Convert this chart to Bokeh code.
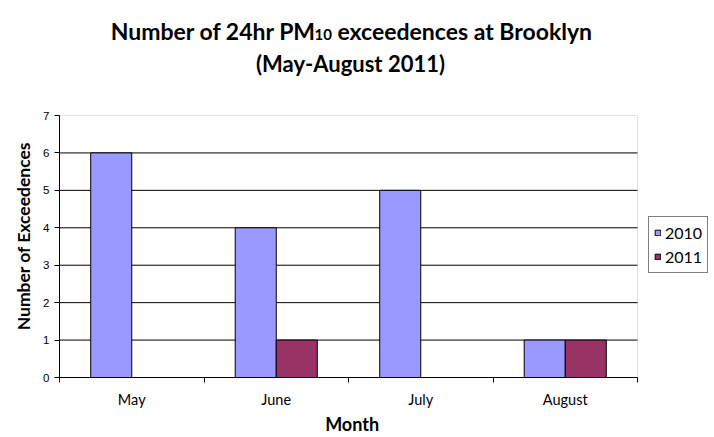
from bokeh.plotting import figure
from bokeh.models import (Range1d, FixedTicker, LinearAxis, Legend, LegendItem,
                          Label, ColumnDataSource, BoxAnnotation)
from bokeh.transform import dodge
from bokeh.embed import file_html
from bokeh.resources import INLINE

# ---- data ----
months = ["May", "June", "July", "August"]
series_names = ["2010", "2011"]
exc_2010 = [6, 4, 5, 1]
exc_2011 = [0, 1, 0, 1]
y_ticks = [0, 1, 2, 3, 4, 5, 6, 7]
title_part1 = "Number of 24hr PM"
title_sub = "10"
title_part3 = "exceedences at Brooklyn"
title_line2 = "(May-August 2011)"
x_title = "Month"
y_title = "Number of Exceedences"

colors = ["#9999FF", "#993366"]
CAL = "Lato"
EM, THIN = "\u2003", "\u2009"   # non-collapsing spaces used to offset axis titles

W, H = 714, 437
# plot-area geometry (pixels); the Bokeh frame is extended to the top and right
# so that title and legend (drawn as annotations) are not clipped.
FL, FR, FT, FB = 59, 637, 115, 377
ncat = len(months)
ymax = max(y_ticks)
x_end = ncat * (W - FL) / (FR - FL)
y_end = ymax * FB / (FB - FT)

def dx(px):
    return (px - FL) / (FR - FL) * ncat
def dy(py):
    return (FB - py) / (FB - FT) * ymax

pos = [i + 0.5 for i in range(ncat)]
bounds = [float(i) for i in range(ncat + 1)]
src = ColumnDataSource(dict(pos=pos, y2010=exc_2010, y2011=exc_2011))
grid_src = ColumnDataSource(dict(y=y_ticks[1:-1],
                                 x0=[0] * (len(y_ticks) - 2),
                                 x1=[ncat] * (len(y_ticks) - 2)))

p = figure(width=W, height=H, output_backend="svg", toolbar_location=None,
           x_range=Range1d(0, x_end), y_range=Range1d(0, y_end),
           x_axis_type=None, y_axis_type=None,
           min_border_left=FL, min_border_right=0, min_border_top=0,
           min_border_bottom=H - FB)
p.title.visible = False
p.background_fill_color = "white"
p.border_fill_color = "white"
p.outline_line_color = None
p.xgrid.visible = False
p.ygrid.visible = False

# horizontal gridlines of the plot area
p.segment(x0="x0", x1="x1", y0="y", y1="y", source=grid_src,
          line_color="black", line_width=1)
# plot-area border (grey)
p.add_layout(BoxAnnotation(left=0, right=ncat, bottom=0, top=ymax,
                           fill_alpha=0, line_color="#a0a0a0", line_width=1,
                           level="underlay"))

bw = 0.284
r1 = p.vbar(x=dodge("pos", -bw / 2), top="y2010", width=bw, source=src,
            fill_color=colors[0], line_color="black", line_width=1)
r2 = p.vbar(x=dodge("pos", bw / 2), top="y2011", width=bw, source=src,
            fill_color=colors[1], line_color="black", line_width=1)

xaxis = LinearAxis(ticker=FixedTicker(ticks=pos, minor_ticks=bounds),
                   major_label_overrides={pp: m for pp, m in zip(pos, months)})
xaxis.bounds = (0, ncat)
xaxis.major_tick_line_color = None
xaxis.major_tick_out = 0
xaxis.major_tick_in = 0
xaxis.minor_tick_line_color = "black"
xaxis.minor_tick_out = 5
xaxis.minor_tick_in = 0
xaxis.axis_line_color = "black"
xaxis.major_label_text_font = CAL
xaxis.major_label_text_font_size = "14.5px"
xaxis.major_label_text_color = "black"
xaxis.major_label_standoff = 8
xaxis.axis_label = x_title + EM * 5 + THIN
xaxis.axis_label_text_font = CAL
xaxis.axis_label_text_font_style = "bold"
xaxis.axis_label_text_font_size = "18px"
xaxis.axis_label_text_color = "black"
xaxis.axis_label_standoff = 2
p.add_layout(xaxis, "below")

yaxis = LinearAxis(ticker=FixedTicker(ticks=y_ticks))
yaxis.bounds = (0, ymax)
yaxis.major_tick_out = 5
yaxis.major_tick_in = 0
yaxis.minor_tick_line_color = None
yaxis.axis_line_color = "black"
yaxis.major_label_text_font = "Liberation Sans"
yaxis.major_label_text_font_size = "11.5px"
yaxis.major_label_text_color = "black"
yaxis.major_label_standoff = 5
yaxis.axis_label = y_title + EM * 7 + THIN
yaxis.axis_label_text_font = CAL
yaxis.axis_label_text_font_style = "bold"
yaxis.axis_label_text_font_size = "17.5px"
yaxis.axis_label_text_color = "black"
yaxis.axis_label_standoff = 6
p.add_layout(yaxis, "left")

legend = Legend(items=[LegendItem(label=series_names[0], renderers=[r1]),
                       LegendItem(label=series_names[1], renderers=[r2])],
                location=(648 - FL, FB - 273), orientation="vertical")
legend.margin = 0
legend.padding = 5
legend.spacing = 3
legend.glyph_width = 7
legend.glyph_height = 7
legend.label_height = 21
legend.label_standoff = 4
legend.label_text_font = CAL
legend.label_text_font_size = "16px"
legend.label_text_color = "black"
legend.border_line_color = "black"
legend.border_line_width = 1
legend.background_fill_color = "white"
legend.background_fill_alpha = 1
p.add_layout(legend)

tfont = dict(text_font=CAL, text_font_style="bold", text_color="black")
p.add_layout(Label(x=dx(316), y=dy(30), text=title_part1, text_align="right",
                   text_baseline="alphabetic", text_font_size="23px", **tfont))
p.add_layout(Label(x=dx(314), y=dy(34), text=title_sub, text_align="left",
                   text_baseline="alphabetic", text_font_size="15px", **tfont))
p.add_layout(Label(x=dx(337), y=dy(30), text=title_part3, text_align="left",
                   text_baseline="alphabetic", text_font_size="23px", **tfont))
p.add_layout(Label(x=dx(350), y=dy(63), text=title_line2, text_align="center",
                   text_baseline="alphabetic", text_font_size="22px", **tfont))

open("out.html", "w").write(file_html(p, INLINE))
